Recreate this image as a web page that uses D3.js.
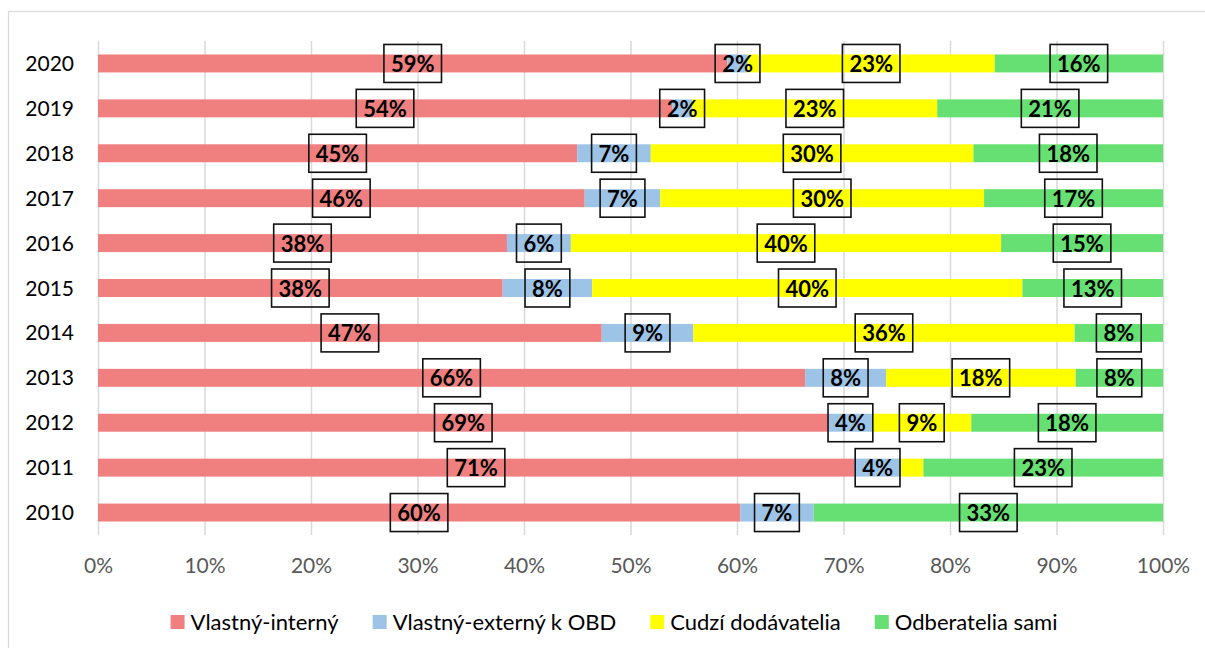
<!DOCTYPE html>
<html>
<head>
<meta charset="utf-8">
<style>
  body { margin: 0; background: #fff; }
  svg { display: block; font-family: Lato, 'Open Sans', sans-serif; }
</style>
</head>
<body>
  <svg id="chart" width="1205" height="648"></svg>
<script src="https://cdn.jsdelivr.net/npm/d3@7"></script>
<script>
/* global d3 */

//---------data---------//
const years = ['2020', '2019', '2018', '2017', '2016', '2015', '2014', '2013', '2012', '2011', '2010']
const seriesNames = ['Vlastný-interný', 'Vlastný-externý k OBD', 'Cudzí dodávatelia', 'Odberatelia sami']
const interny = [59.1, 53.9, 45.0, 45.7, 38.4, 38.0, 47.3, 66.4, 68.6, 71.0, 60.3]
const externy = [1.9, 1.9, 6.9, 7.1, 6.0, 8.4, 8.6, 7.6, 4.1, 4.4, 6.9]
const cudzi = [23.2, 23.0, 30.3, 30.4, 40.4, 40.4, 35.8, 17.8, 9.3, 2.1, 0]
const odberatelia = [15.8, 21.2, 17.8, 16.8, 15.2, 13.2, 8.3, 8.2, 18.0, 22.5, 32.8]
const xTicks = [0, 10, 20, 30, 40, 50, 60, 70, 80, 90, 100]
// the 2011 "Cudzí dodávatelia" slice has no label in the original
const hiddenLabels = ['2011|Cudzí dodávatelia']

const colors = ['#f08080', '#9dc3e6', '#ffff00', '#66e072']

//---------layout---------//
const svg = d3.select('#chart')
const margins = { top: 41, right: 42, bottom: 113, left: 98 }
const H = 648
const plotTop = margins.top
const plotBottom = H - margins.bottom

// outer chart frame (right / bottom edges fall outside the picture)
svg.append('rect')
  .attr('x', 8.5).attr('y', 11.5)
  .attr('width', 1200).attr('height', 650)
  .attr('fill', 'none')
  .attr('stroke', '#d9d9d9')
  .attr('stroke-width', 1.2)

const x = d3.scaleLinear().domain([0, 100]).range([margins.left, 1163])
const y = d3.scaleBand().domain(years).range([plotTop, plotBottom]).paddingInner(0.6).paddingOuter(0.3)

const rows = years.map((yr, i) => ({
  year: yr,
  [seriesNames[0]]: interny[i],
  [seriesNames[1]]: externy[i],
  [seriesNames[2]]: cudzi[i],
  [seriesNames[3]]: odberatelia[i]
}))
const stacked = d3.stack().keys(seriesNames)(rows)

//---------axes---------//
const xAxis = d3.axisBottom(x)
  .tickValues(xTicks)
  .tickFormat(d => d + '%')
  .tickSize(-(plotBottom - plotTop))
  .tickPadding(23)

const gx = svg.append('g')
  .attr('transform', `translate(0,${plotBottom})`)
  .call(xAxis)
gx.select('.domain').remove()
gx.selectAll('line').attr('stroke', '#d9d9d9').attr('stroke-width', 1.5)
gx.selectAll('text')
  .attr('fill', '#595959')
  .style('font-size', '21px')
  .style('font-family', 'Lato, sans-serif')

const yAxis = d3.axisLeft(y).tickSize(0).tickPadding(24)
const gy = svg.append('g')
  .attr('transform', `translate(${margins.left},0)`)
  .call(yAxis)
gy.select('.domain').remove()
gy.selectAll('text')
  .attr('fill', '#000')
  .attr('dy', '0.36em')
  .style('font-size', '21px')
  .style('font-family', 'Lato, sans-serif')

//---------bars---------//
const layers = svg.append('g').selectAll('g')
  .data(stacked)
  .join('g')
  .attr('fill', (d, i) => colors[i])

layers.selectAll('rect')
  .data(d => d)
  .join('rect')
  .attr('x', d => x(d[0]))
  .attr('y', d => y(d.data.year))
  .attr('width', d => x(d[1]) - x(d[0]))
  .attr('height', y.bandwidth())

//---------boxed labels---------//
const labelG = svg.append('g')
stacked.forEach(layer => {
  layer.forEach(d => {
    const v = d[1] - d[0]
    if (v <= 0) return
    if (hiddenLabels.includes(d.data.year + '|' + layer.key)) return
    const cx = (x(d[0]) + x(d[1])) / 2
    const cy = y(d.data.year) + y.bandwidth() / 2
    const g = labelG.append('g')
    const rect = g.append('rect')
    const t = g.append('text')
      .attr('x', cx)
      .attr('y', cy + 8.5)
      .attr('text-anchor', 'middle')
      .style('font-size', '22px')
      .style('font-weight', 700)
      .attr('fill', '#000')
      .text(Math.round(v) + '%')
    const w = t.node().getComputedTextLength() + 14
    rect.attr('x', cx - w / 2)
      .attr('y', cy - 19)
      .attr('width', w)
      .attr('height', 38)
      .attr('fill', 'none')
      .attr('stroke', '#111')
      .attr('stroke-width', 1.6)
  })
})

//---------legend---------//
const legend = svg.append('g')
let lx = 0
seriesNames.forEach((name, i) => {
  const item = legend.append('g').attr('transform', `translate(${lx},0)`)
  item.append('rect')
    .attr('x', 0).attr('y', -7)
    .attr('width', 14).attr('height', 14)
    .attr('fill', colors[i])
  const t = item.append('text')
    .attr('x', 20).attr('y', 8)
    .attr('fill', '#000')
    .style('font-size', '22px')
    .text(name)
  lx += 20 + t.node().getComputedTextLength() + 34
})
const legendW = lx - 34
legend.attr('transform', `translate(${614 - legendW / 2},622)`)
</script>
</body>
</html>
